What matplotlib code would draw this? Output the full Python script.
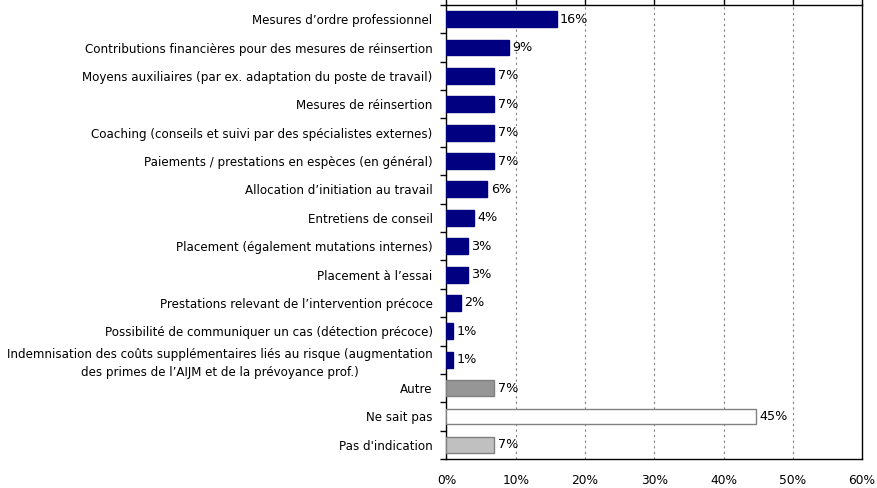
import matplotlib.pyplot as plt
import numpy as np

categories = [
    "Mesures d\u2019ordre professionnel",
    "Contributions financi\u00e8res pour des mesures de r\u00e9insertion",
    "Moyens auxiliaires (par ex. adaptation du poste de travail)",
    "Mesures de r\u00e9insertion",
    "Coaching (conseils et suivi par des sp\u00e9cialistes externes)",
    "Paiements / prestations en esp\u00e8ces (en g\u00e9n\u00e9ral)",
    "Allocation d\u2019initiation au travail",
    "Entretiens de conseil",
    "Placement (\u00e9galement mutations internes)",
    "Placement \u00e0 l\u2019essai",
    "Prestations relevant de l\u2019intervention pr\u00e9coce",
    "Possibilit\u00e9 de communiquer un cas (d\u00e9tection pr\u00e9coce)",
    "Indemnisation des co\u00fbts suppl\u00e9mentaires li\u00e9s au risque (augmentation\ndes primes de l\u2019AIJM et de la pr\u00e9voyance prof.)",
    "Autre",
    "Ne sait pas",
    "Pas d'indication",
]
values = [15.9, 9.0, 6.9, 6.9, 6.9, 6.9, 5.9, 4.0, 3.1, 3.1, 2.1, 1.0, 1.0, 6.9, 44.7, 6.9]
labels = ["16%", "9%", "7%", "7%", "7%", "7%", "6%", "4%", "3%", "3%", "2%", "1%", "1%", "7%", "45%", "7%"]

colors = ["#000080"] * 13 + ["#969696", "#ffffff", "#c0c0c0"]
edges = ["#000080"] * 13 + ["#808080", "#808080", "#808080"]

plt.rcParams["font.family"] = ["DejaVu Sans"]

fig = plt.figure(figsize=(8.78, 4.88), dpi=100)
ax = fig.add_axes([0.5085, 0.0594, 0.4733, 0.9304])

y = np.arange(len(categories))
ax.barh(y, values, height=0.56, color=colors, edgecolor=edges, linewidth=1, zorder=3)

for yi, v, lab in zip(y, values, labels):
    ax.text(v + 0.5, yi, lab, va="center", ha="left", fontsize=9.2, color="#000000", zorder=4)

ax.set_xlim(0, 60)
ax.set_ylim(len(categories) - 0.5, -0.5)
ax.set_xticks(np.arange(0, 61, 10))
ax.set_xticklabels([f"{t}%" for t in range(0, 61, 10)], fontsize=8.8)
ax.tick_params(axis="x", bottom=False, top=True, direction="out", length=4, pad=7, width=1)

ax.set_yticks(y)
ax.set_yticklabels(categories, fontsize=8.6, multialignment="center")
for t in ax.get_yticklabels():
    if "\n" in t.get_text():
        t.set_linespacing(1.45)
ax.set_yticks(np.arange(-0.5, len(categories), 1), minor=True)
ax.tick_params(axis="y", which="major", length=0, pad=10)
ax.tick_params(axis="y", which="minor", length=4, direction="out", width=1)

ax.grid(axis="x", linestyle=(0, (2, 3)), color="#808080", linewidth=0.8, zorder=0)
for s in ax.spines.values():
    s.set_color("#000000")
    s.set_linewidth(1)

fig.savefig("out.png", dpi=100)
